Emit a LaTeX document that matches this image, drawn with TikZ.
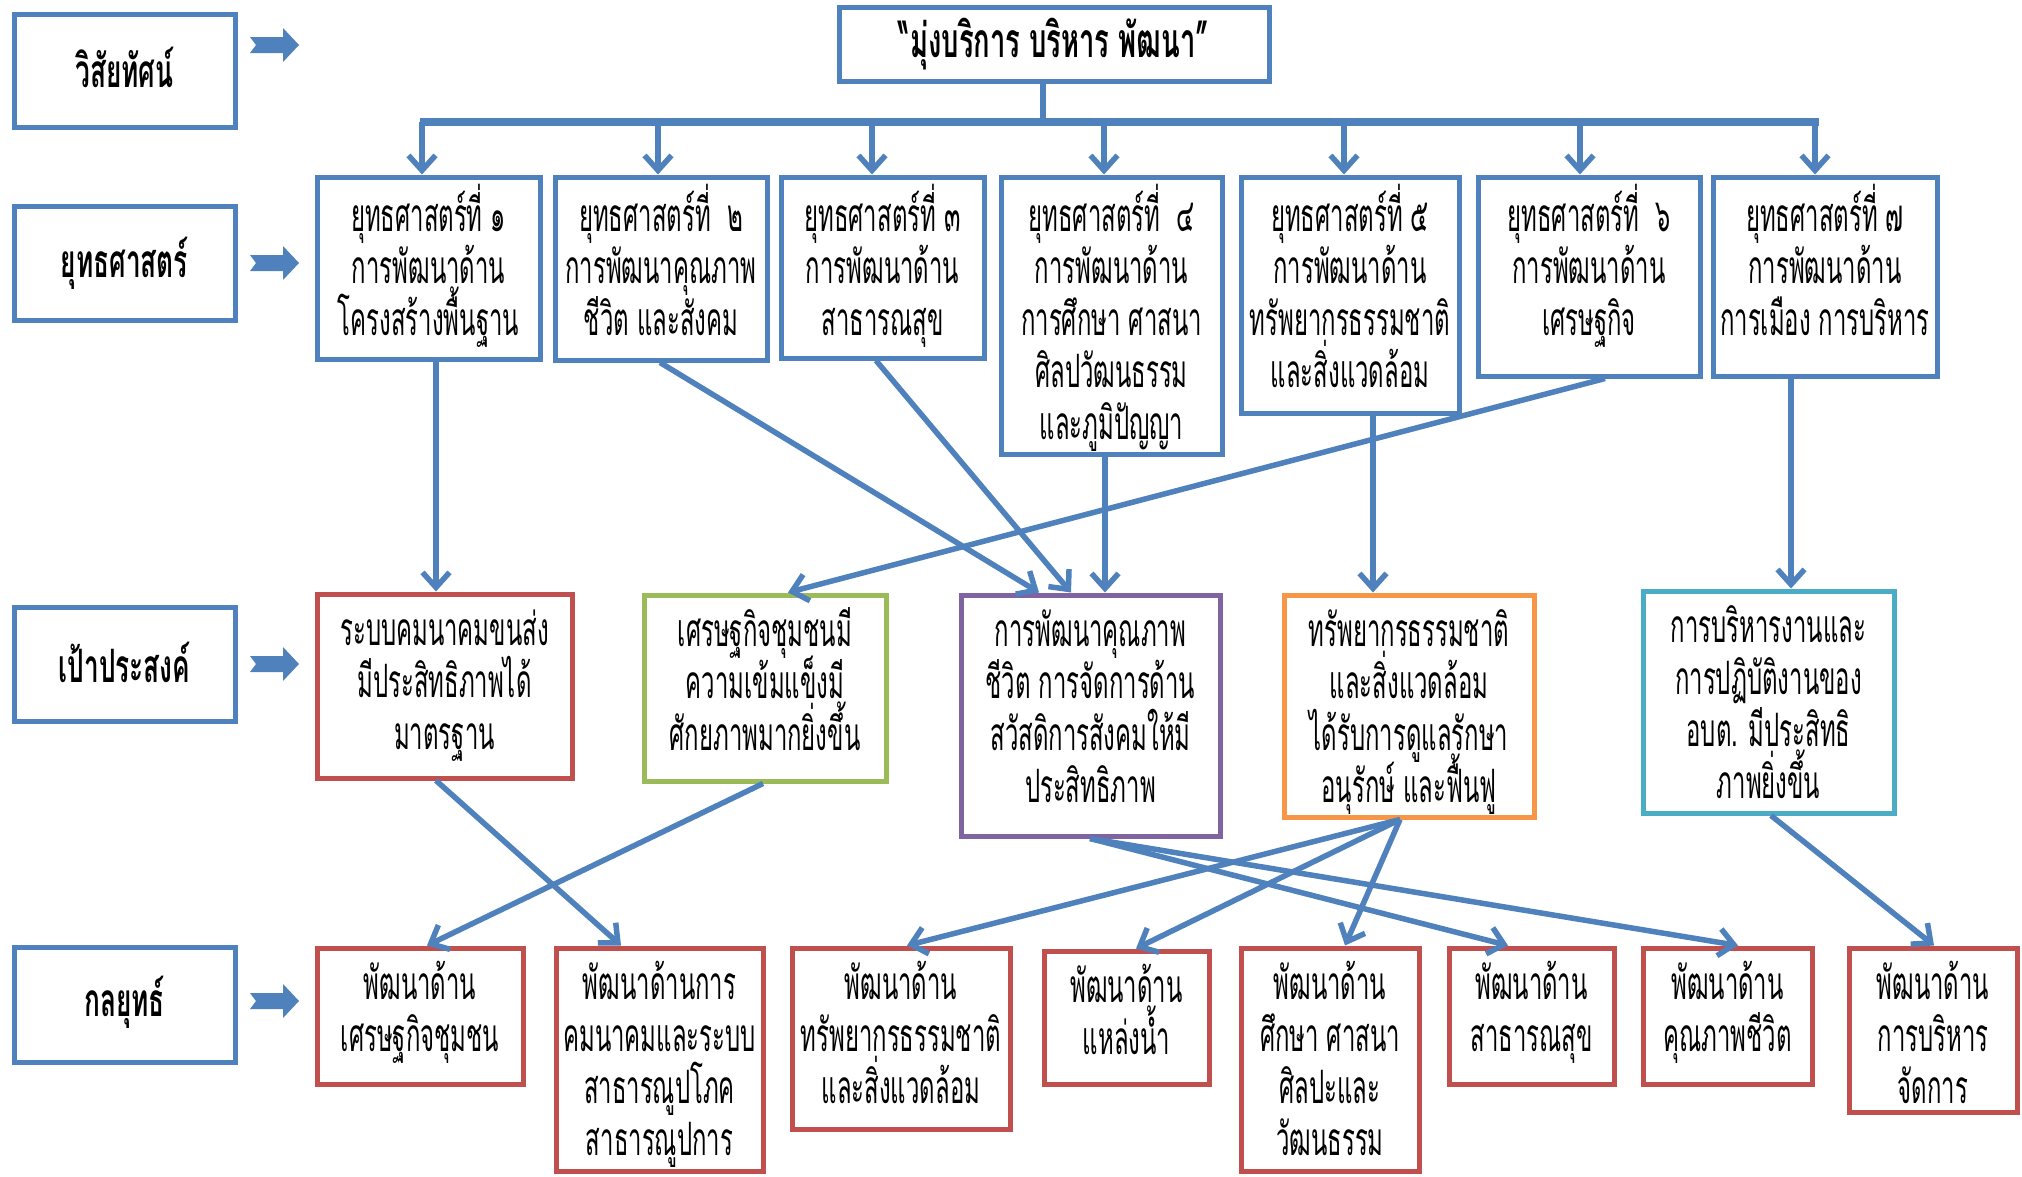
\documentclass[tikz,border=0pt]{standalone}
\usepackage{fontspec}
\newfontfamily\thai[Script=Thai,FakeStretch=0.52]{Loma}
\newfontfamily\thaib[Script=Thai,FakeStretch=0.57,UprightFont={Loma Bold}]{Loma}
\usetikzlibrary{arrows.meta,fit}
\definecolor{cblue}{HTML}{4F81BD}
\definecolor{cred}{HTML}{C0504D}
\definecolor{cgreen}{HTML}{9BBB59}
\definecolor{cpurple}{HTML}{8064A2}
\definecolor{corange}{HTML}{F79646}
\definecolor{ccyan}{HTML}{4BACC6}
% multi-line centred block whose baseline is the first line's baseline
\newcommand\mlines[1]{\vtop{\baselineskip=52pt\lineskiplimit=-200pt\lineskip=0pt
  \halign{\hfil##\hfil\cr#1\crcr}}}
\begin{document}
\begin{tikzpicture}[x=1pt,y=-1pt,
  box/.style={draw=#1, line width=5pt, fill=white, inner sep=0pt},
  tx/.style={anchor=base, inner sep=0pt, yshift=-54pt,
    font={\thai\fontsize{46pt}{52pt}\selectfont}},
  lbl/.style={align=center, inner sep=0pt, font={\thaib\fontsize{46pt}{52pt}\selectfont}},
  conn/.style={draw=cblue, line width=5.5pt, -{Straight Barb[length=15pt,width=27pt]}},
  bus/.style={draw=cblue, line width=8pt},
  chev/.pic={\fill[cblue] (-24,-8) -- (9,-8) -- (9,-17) -- (25,0) -- (9,17) -- (9,8) -- (-24,8) -- (-18,0) -- cycle;}
]
\useasboundingbox (0,0) rectangle (2022,1176);
\fill[white] (0,0) rectangle (2022,1176);

% row labels
\node[box=cblue, fit={(14,14)(235,127)}] (lv) {};
\node[lbl] at ([yshift=3pt]lv.center) {วิสัยทัศน์};
\node[box=cblue, fit={(14,206)(235,320)}] (ls) {};
\node[lbl] at (ls.center) {ยุทธศาสตร์};
\node[box=cblue, fit={(14,607)(235,721)}] (lg) {};
\node[lbl] at ([yshift=2pt]lg.center) {เป้าประสงค์};
\node[box=cblue, fit={(14,947)(235,1062)}] (lt) {};
\node[lbl] at ([yshift=2pt]lt.center) {กลยุทธ์};

\pic at (274,45) {chev};
\pic at (274,263) {chev};
\pic at (274,664) {chev};
\pic at (274,1001) {chev};

% vision
\node[box=cblue, fit={(839,7)(1269,81)}] (vision) {};
\node[lbl, font={\thaib\fontsize{48pt}{52pt}\selectfont}] at (vision.center) {“มุ่งบริการ บริหาร พัฒนา”};

% strategies
\begin{scope}[tx/.append style={yshift=-3pt}]
\node[box=cblue, fit={(317,177)(540,359)}] (s1) {};
\node[tx] at (s1.north) {\mlines{ยุทธศาสตร์ที่ ๑\cr การพัฒนาด้าน\cr โครงสร้างพื้นฐาน}};
\node[box=cblue, fit={(555,177)(767,360)}] (s2) {};
\node[tx] at (s2.north) {\mlines{ยุทธศาสตร์ที่ ~๒\cr การพัฒนาคุณภาพ\cr ชีวิต และสังคม}};
\node[box=cblue, fit={(781,177)(984,358)}] (s3) {};
\node[tx] at (s3.north) {\mlines{ยุทธศาสตร์ที่ ๓\cr การพัฒนาด้าน\cr สาธารณสุข}};
\node[box=cblue, fit={(1001,177)(1222,454)}] (s4) {};
\node[tx] at (s4.north) {\mlines{ยุทธศาสตร์ที่ ~๔\cr การพัฒนาด้าน\cr การศึกษา ศาสนา\cr ศิลปวัฒนธรรม\cr และภูมิปัญญา}};
\node[box=cblue, fit={(1241,177)(1459,413)}] (s5) {};
\node[tx] at (s5.north) {\mlines{ยุทธศาสตร์ที่ ๕\cr การพัฒนาด้าน\cr ทรัพยากรธรรมชาติ\cr และสิ่งแวดล้อม}};
\node[box=cblue, fit={(1478,177)(1700,376)}] (s6) {};
\node[tx] at (s6.north) {\mlines{ยุทธศาสตร์ที่ ~๖\cr การพัฒนาด้าน\cr เศรษฐกิจ}};
\node[box=cblue, fit={(1713,177)(1937,376)}] (s7) {};
\node[tx] at (s7.north) {\mlines{ยุทธศาสตร์ที่ ๗\cr การพัฒนาด้าน\cr การเมือง การบริหาร}};
\end{scope}

% goals
\node[box=cred, fit={(317,594)(572,778)}] (g1) {};
\node[tx] at (g1.north) {\mlines{ระบบคมนาคมขนส่ง\cr มีประสิทธิภาพได้\cr มาตรฐาน}};
\node[box=cgreen, fit={(644,595)(886,781)}] (g2) {};
\node[tx] at (g2.north) {\mlines{เศรษฐกิจชุมชนมี\cr ความเข้มแข็งมี\cr ศักยภาพมากยิ่งขึ้น}};
\node[box=cpurple, fit={(961,595)(1220,836)}] (g3) {};
\node[tx] at (g3.north) {\mlines{การพัฒนาคุณภาพ\cr ชีวิต การจัดการด้าน\cr สวัสดิการสังคมให้มี\cr ประสิทธิภาพ}};
\node[box=corange, fit={(1284,595)(1534,817)}] (g4) {};
\node[tx] at (g4.north) {\mlines{ทรัพยากรธรรมชาติ\cr และสิ่งแวดล้อม\cr ได้รับการดูแลรักษา\cr อนุรักษ์ และฟื้นฟู}};
\node[box=ccyan, fit={(1643,591)(1894,813)}] (g5) {};
\node[tx] at (g5.north) {\mlines{การบริหารงานและ\cr การปฏิบัติงานของ\cr อบต. มีประสิทธิ\cr ภาพยิ่งขึ้น}};

% tactics
\node[box=cred, fit={(317,948)(523,1084)}] (t1) {};
\node[tx] at (t1.north) {\mlines{พัฒนาด้าน\cr เศรษฐกิจชุมชน}};
\node[box=cred, fit={(556,948)(763,1171)}] (t2) {};
\node[tx] at (t2.north) {\mlines{พัฒนาด้านการ\cr คมนาคมและระบบ\cr สาธารณูปโภค\cr สาธารณูปการ}};
\node[box=cred, fit={(792,948)(1010,1129)}] (t3) {};
\node[tx] at (t3.north) {\mlines{พัฒนาด้าน\cr ทรัพยากรธรรมชาติ\cr และสิ่งแวดล้อม}};
\node[box=cred, fit={(1044,951)(1209,1084)}] (t4) {};
\node[tx] at (t4.north) {\mlines{พัฒนาด้าน\cr แหล่งน้ำ}};
\node[box=cred, fit={(1241,948)(1419,1171)}] (t5) {};
\node[tx] at (t5.north) {\mlines{พัฒนาด้าน\cr ศึกษา ศาสนา\cr ศิลปะและ\cr วัฒนธรรม}};
\node[box=cred, fit={(1449,948)(1614,1084)}] (t6) {};
\node[tx] at (t6.north) {\mlines{พัฒนาด้าน\cr สาธารณสุข}};
\node[box=cred, fit={(1643,948)(1812,1084)}] (t7) {};
\node[tx] at (t7.north) {\mlines{พัฒนาด้าน\cr คุณภาพชีวิต}};
\node[box=cred, fit={(1849,948)(2017,1112)}] (t8) {};
\node[tx] at (t8.north) {\mlines{พัฒนาด้าน\cr การบริหาร\cr จัดการ}};

% bus from vision
\coordinate (bl) at (420,122);
\coordinate (br) at (1819,122);
\draw[bus] (bl) -- (br);
\draw[cblue, line width=6pt] (1043,0 |- vision.south) -- (1043,0 |- bl);
\foreach \x/\n in {422/s1,658/s2,872/s3,1104/s4,1344/s5,1580/s6,1815/s7}
  \draw[conn] (\x,0 |- bl) -- (\x,0 |- \n.north);

% strategy -> goals
\draw[conn] (436,0 |- s1.south) -- (436,0 |- g1.north);
\draw[conn] (660,0 |- s2.south) -- (1039,0 |- g3.north);
\draw[conn] (876,0 |- s3.south) -- (1071,0 |- g3.north);
\draw[conn] (1105,0 |- s4.south) -- (1105,0 |- g3.north);
\draw[conn] (1605,0 |- s6.south) -- (788,0 |- g2.north);
\draw[conn] (1373,0 |- s5.south) -- (1373,0 |- g4.north);
\draw[conn] (1791,0 |- s7.south) -- (1791,0 |- g5.north);

% goals -> tactics
\draw[conn] (436,0 |- g1.south) -- (621,0 |- t2.north);
\draw[conn] (763,0 |- g2.south) -- (427,0 |- t1.north);
\draw[conn] (1090,0 |- g3.south) -- (1508,0 |- t6.north);
\draw[conn] (1090,0 |- g3.south) -- (1738,0 |- t7.north);
\draw[conn] (1400,0 |- g4.south) -- (907,0 |- t3.north);
\draw[conn] (1400,0 |- g4.south) -- (1136,0 |- t4.north);
\draw[conn] (1400,0 |- g4.south) -- (1345,0 |- t5.north);
\draw[conn] (1771,0 |- g5.south) -- (1934,0 |- t8.north);
\end{tikzpicture}
\end{document}
